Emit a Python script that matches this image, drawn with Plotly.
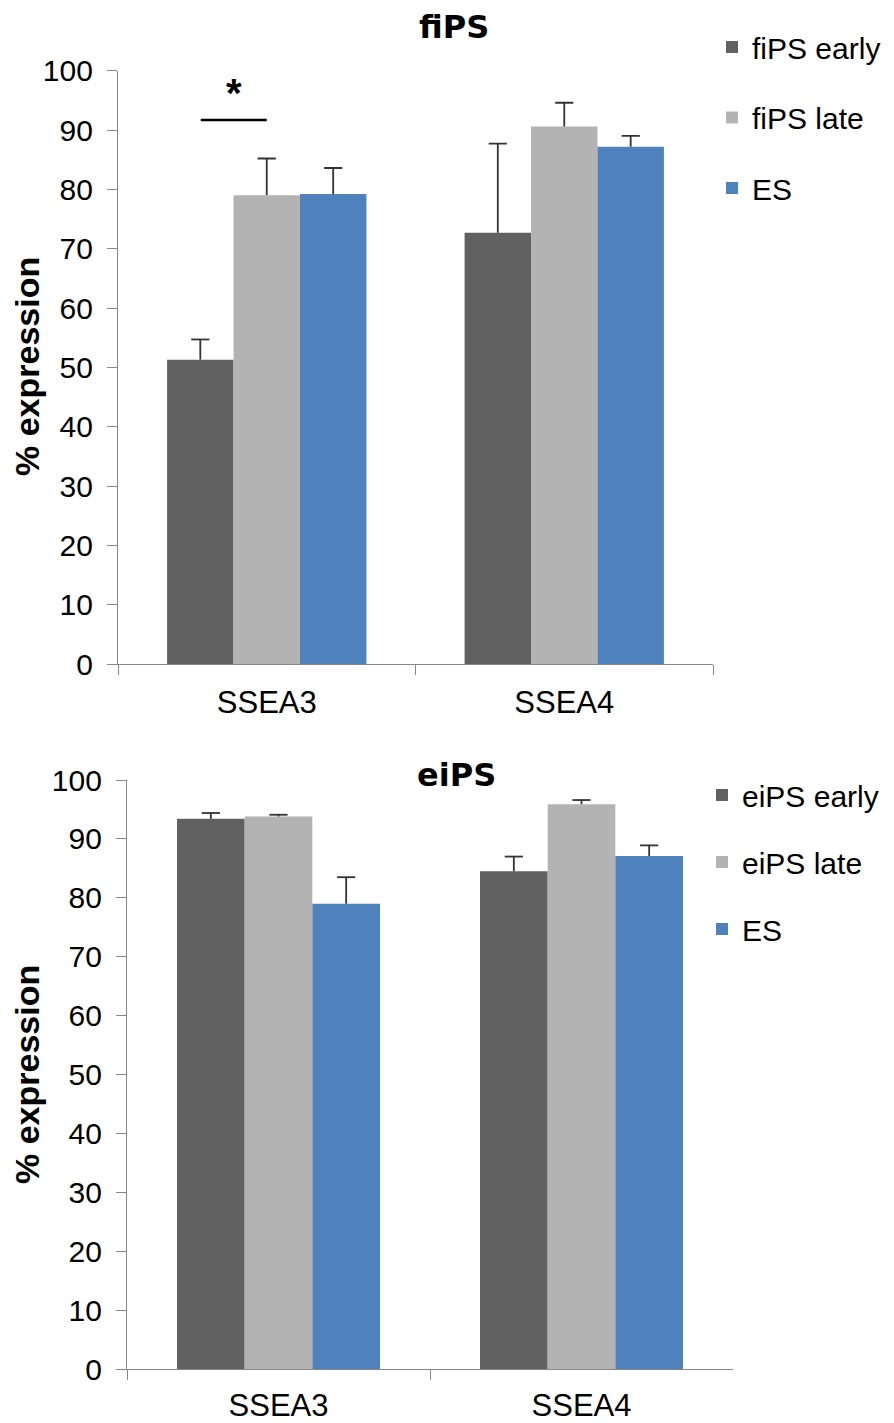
import plotly.graph_objects as go

W, H = 894, 1423

categories = ["SSEA3", "SSEA4"]
y_ticks = [0, 10, 20, 30, 40, 50, 60, 70, 80, 90, 100]

# top panel (fiPS)
fips_names = ["fiPS early", "fiPS late", "ES"]
fips_early = [51.3, 72.7]
fips_early_err = [3.4, 15.0]
fips_late = [79.0, 90.6]
fips_late_err = [6.2, 4.0]
fips_es = [79.2, 87.2]
fips_es_err = [4.4, 1.8]

# bottom panel (eiPS)
eips_names = ["eiPS early", "eiPS late", "ES"]
eips_early = [93.4, 84.5]
eips_early_err = [1.0, 2.5]
eips_late = [93.8, 95.9]
eips_late_err = [0.3, 0.7]
eips_es = [79.0, 87.1]
eips_es_err = [4.5, 1.8]

colors = ["#616161", "#b3b3b3", "#4f81bd"]
ERR_COLOR = "#333333"
FONT = "Liberation Sans, Arial, sans-serif"


def px_x(p):
    return p / W


def px_y(p):
    return 1 - p / H


fig = go.Figure()

top_series = [(fips_early, fips_early_err), (fips_late, fips_late_err), (fips_es, fips_es_err)]
bot_series = [(eips_early, eips_early_err), (eips_late, eips_late_err), (eips_es, eips_es_err)]

panels = [
    (top_series, fips_names, "x", "y", "legend", "t"),
    (bot_series, eips_names, "x2", "y2", "legend2", "b"),
]

for series, names, xa, ya, leg, tag in panels:
    for i, ((vals, errs), name) in enumerate(zip(series, names)):
        fig.add_trace(go.Bar(
            x=categories, y=vals, name=name,
            marker=dict(color=colors[i], line=dict(width=0)),
            xaxis=xa, yaxis=ya, legend=leg, legendgroup=tag + str(i),
            offsetgroup=tag + str(i), alignmentgroup=tag,
        ))
    # upper-only error bars: cap marker at value+err, whisker down to bar top
    for i, ((vals, errs), name) in enumerate(zip(series, names)):
        tops = [v + e for v, e in zip(vals, errs)]
        fig.add_trace(go.Scatter(
            x=categories, y=tops, mode="markers", showlegend=False, hoverinfo="skip",
            marker=dict(symbol="line-ew", size=13, line=dict(width=1.8, color=ERR_COLOR)),
            error_y=dict(type="data", symmetric=False, array=[0] * len(errs), arrayminus=errs,
                         width=0, thickness=1.8, color=ERR_COLOR),
            xaxis=xa, yaxis=ya, offsetgroup=tag + str(i), alignmentgroup=tag + "s",
        ))

axis_common_y = dict(
    range=[0, 100], tickvals=y_ticks, ticks="outside", ticklen=10, tickcolor="#888888",
    tickwidth=1.2, showline=True, linecolor="#888888", linewidth=1.2, showgrid=False,
    zeroline=False, tickfont=dict(family=FONT, size=30, color="#000000"),
)
axis_common_x = dict(
    type="category", ticks="outside", tickson="boundaries", ticklen=10, tickcolor="#888888",
    tickwidth=1.2, showline=True, linecolor="#888888", linewidth=1.2, showgrid=False,
    zeroline=False, tickfont=dict(family=FONT, size=31, color="#000000"),
)

fig.update_layout(
    width=W, height=H,
    margin=dict(l=0, r=0, t=0, b=0, autoexpand=False),
    paper_bgcolor="white", plot_bgcolor="white",
    barmode="group", bargap=0.33, bargroupgap=0,
    scattermode="group", scattergap=0.33,
    xaxis=dict(domain=[px_x(118), px_x(713)], anchor="y", ticklabelstandoff=11, **axis_common_x),
    yaxis=dict(domain=[px_y(664), px_y(70.7)], anchor="x", ticklabelstandoff=8, **axis_common_y),
    xaxis2=dict(domain=[px_x(127), px_x(733)], anchor="y2", ticklabelstandoff=9, **axis_common_x),
    yaxis2=dict(domain=[px_y(1369), px_y(780)], anchor="x2", ticklabelstandoff=8, **axis_common_y),
    legend=dict(x=px_x(712), y=px_y(21), xanchor="left", yanchor="top",
                font=dict(family=FONT, size=30, color="#000000"), tracegroupgap=28.5,
                bgcolor="rgba(0,0,0,0)", itemwidth=30),
    legend2=dict(x=px_x(702), y=px_y(769), xanchor="left", yanchor="top",
                 font=dict(family=FONT, size=30, color="#000000"), tracegroupgap=25,
                 bgcolor="rgba(0,0,0,0)", itemwidth=30),
    showlegend=True,
)

# titles
fig.add_annotation(text="<b>fiPS</b>", x=px_x(454), y=px_y(27), xref="paper", yref="paper",
                   showarrow=False, font=dict(family="DejaVu Sans", size=32, color="#000000"),
                   xanchor="center", yanchor="middle")
fig.add_annotation(text="<b>eiPS</b>", x=px_x(457), y=px_y(775), xref="paper", yref="paper",
                   showarrow=False, font=dict(family="DejaVu Sans", size=32, color="#000000"),
                   xanchor="center", yanchor="middle")
# y axis titles
for yc in (367, 1075):
    fig.add_annotation(text="<b>% expression</b>", x=px_x(27), y=px_y(yc), xref="paper", yref="paper",
                       showarrow=False, textangle=-90,
                       font=dict(family=FONT, size=34, color="#000000"),
                       xanchor="center", yanchor="middle")

# significance marker between fiPS early and fiPS late (SSEA3)
fig.add_shape(type="line", xref="x", yref="y", x0=-0.222, x1=0.0, y0=91.7, y1=91.7,
              line=dict(color="#000000", width=2.5))
fig.add_annotation(text="<b>*</b>", x=-0.111, y=96.2, xref="x", yref="y", showarrow=False,
                   font=dict(family=FONT, size=40, color="#000000"), yanchor="middle")

fig.write_html("out.html")
